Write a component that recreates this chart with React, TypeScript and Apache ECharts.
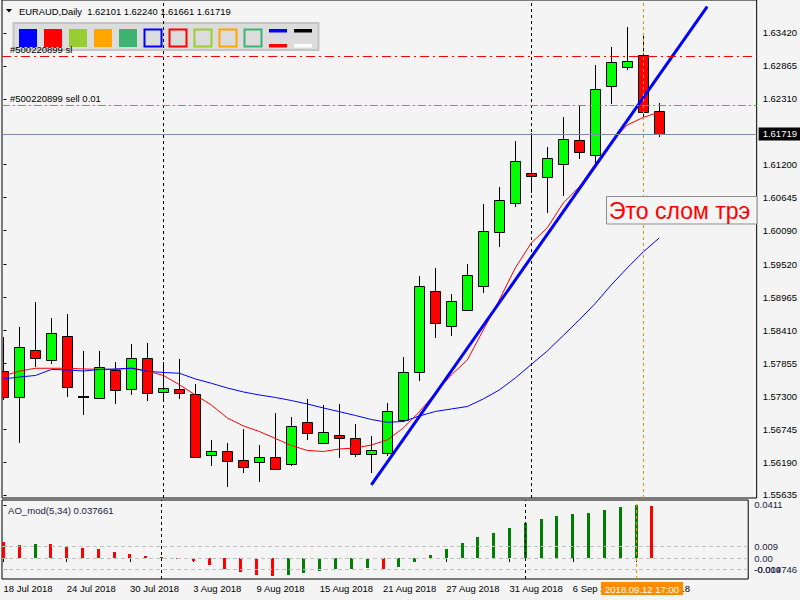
import React, { useEffect, useRef } from "react";
import * as echarts from "echarts";

const symbolTitle = "EURAUD,Daily";
const dates = [
  "18 Jul 2018", "19 Jul 2018", "20 Jul 2018", "23 Jul 2018", "24 Jul 2018", "25 Jul 2018", "26 Jul 2018", "27 Jul 2018",
  "30 Jul 2018", "31 Jul 2018", "1 Aug 2018", "2 Aug 2018", "3 Aug 2018", "6 Aug 2018", "7 Aug 2018", "8 Aug 2018",
  "9 Aug 2018", "10 Aug 2018", "13 Aug 2018", "14 Aug 2018", "15 Aug 2018", "16 Aug 2018", "17 Aug 2018", "20 Aug 2018",
  "21 Aug 2018", "22 Aug 2018", "23 Aug 2018", "24 Aug 2018", "27 Aug 2018", "28 Aug 2018", "29 Aug 2018", "30 Aug 2018",
  "31 Aug 2018", "3 Sep 2018", "4 Sep 2018", "5 Sep 2018", "6 Sep 2018", "7 Sep 2018", "10 Sep 2018", "11 Sep 2018",
  "12 Sep 2018", "13 Sep 2018",
];
const openP = [1.57724, 1.57281, 1.58073, 1.57905, 1.58309, 1.57274, 1.57264, 1.57741, 1.57416, 1.57938, 1.57365, 1.57416, 1.57332, 1.56304, 1.56376, 1.56225, 1.56186, 1.5627, 1.56152, 1.5686, 1.56506, 1.56641, 1.5659, 1.56321, 1.56338, 1.56899, 1.57702, 1.59067, 1.58478, 1.58747, 1.59152, 1.60062, 1.6055, 1.61061, 1.60988, 1.61208, 1.61617, 1.61359, 1.62522, 1.62842, 1.63044, 1.62101];
const highP = [1.58297, 1.58466, 1.58887, 1.58622, 1.5869, 1.58061, 1.58061, 1.57876, 1.58179, 1.58196, 1.57876, 1.57927, 1.575, 1.56562, 1.56511, 1.56747, 1.56477, 1.57017, 1.56949, 1.57248, 1.57151, 1.57168, 1.56831, 1.56629, 1.57185, 1.57955, 1.59325, 1.59465, 1.59022, 1.59527, 1.60539, 1.60825, 1.616, 1.61735, 1.61499, 1.6201, 1.62207, 1.62876, 1.63184, 1.63521, 1.63415, 1.6224];
const lowP = [1.57236, 1.56516, 1.57797, 1.57837, 1.57281, 1.56988, 1.57253, 1.57173, 1.5732, 1.57224, 1.57207, 1.57258, 1.56258, 1.56129, 1.55775, 1.56011, 1.55859, 1.56056, 1.56129, 1.56562, 1.56489, 1.56263, 1.5628, 1.56011, 1.56297, 1.56865, 1.57561, 1.58286, 1.58319, 1.58735, 1.59039, 1.59819, 1.60493, 1.60719, 1.60382, 1.60678, 1.61297, 1.61224, 1.62229, 1.62792, 1.61983, 1.61661];
const closeP = [1.57281, 1.58124, 1.57938, 1.5836, 1.5745, 1.57278, 1.57787, 1.57399, 1.57938, 1.57349, 1.57433, 1.57349, 1.5627, 1.56376, 1.56203, 1.56102, 1.5627, 1.56068, 1.56793, 1.5668, 1.56691, 1.5659, 1.56321, 1.56388, 1.57045, 1.57702, 1.59152, 1.58528, 1.58899, 1.59337, 1.60084, 1.60601, 1.61258, 1.61005, 1.61309, 1.61629, 1.6141, 1.62471, 1.62926, 1.62943, 1.62084, 1.61719];
const fastMA = [1.5764, 1.57724, 1.5777, 1.5777, 1.5777, 1.57758, 1.57753, 1.5775, 1.57775, 1.57724, 1.57649, 1.57493, 1.5732, 1.57151, 1.56932, 1.56798, 1.56705, 1.56587, 1.56469, 1.56385, 1.56368, 1.5641, 1.56427, 1.56477, 1.56562, 1.56764, 1.57034, 1.57354, 1.57657, 1.5791, 1.58415, 1.58921, 1.5946, 1.59881, 1.60134, 1.60555, 1.60825, 1.61213, 1.61583, 1.6187, 1.61996, 1.62089];
const slowMA = [1.5759, 1.57623, 1.57649, 1.5775, 1.57741, 1.57724, 1.5775, 1.57758, 1.5777, 1.57719, 1.57699, 1.57686, 1.5759, 1.57517, 1.57438, 1.57371, 1.5732, 1.57278, 1.57227, 1.57168, 1.57101, 1.57039, 1.56975, 1.56907, 1.5686, 1.56873, 1.56966, 1.57042, 1.57084, 1.57126, 1.57253, 1.57404, 1.57606, 1.57834, 1.58061, 1.58323, 1.58584, 1.58862, 1.59174, 1.5946, 1.5973, 1.59966];
const aoValues = [0.0124, 0.0101, 0.0109, 0.0107, 0.0093, 0.0078, 0.007, 0.0047, 0.0031, 0.0016, 0.0008, -0.0002, -0.0023, -0.0054, -0.0085, -0.0109, -0.0132, -0.014, -0.0132, -0.0116, -0.0101, -0.0088, -0.0084, -0.0078, -0.0085, -0.007, -0.0029, 0.0023, 0.007, 0.0116, 0.0163, 0.0194, 0.0233, 0.0271, 0.0302, 0.0326, 0.0341, 0.0349, 0.0372, 0.0395, 0.0411, 0.0403];
const aoTitle = "AO_mod(5,34) 0.037661";
const trendX = [23, 44];
const trendY = [1.55804, 1.63863];
const priceTicks = [1.55635, 1.5619, 1.56745, 1.573, 1.57855, 1.5841, 1.58965, 1.5952, 1.6009, 1.60645, 1.612, 1.6231, 1.62865, 1.6342];
const aoTicks = [0.0411, 0.009, 0, -0.009];
const aoTickLabels = ["0.0411", "0.009", "0.00", "-0.009"];
const aoMinLabel = "-0.014746";
const aoLevels = [0.009, 0, -0.009];
const separators = [10, 33];
const cursorIndex = 40;
const cursorLabel = "2018.09.12 17:00";
const dateTickIdx = [0, 4, 8, 12, 16, 20, 24, 28, 32, 36, 40];
const slPrice = 1.63021;
const slText = "#500220899 sl";
const orderPrice = 1.62202;
const orderText = "#500220899 sell 0.01";
const bidPrice = 1.61719;
const noteText = "Это слом трэ";
const toolbarColors = ["#0000ff", "#ff0000", "#9acd32", "#ffa500", "#3cb371"];

const FONT = "'Liberation Sans', Arial, sans-serif";
const BG = "#f4f4f4";
const X_MIN = -1.5 / 16;
const X_MAX = X_MIN + 755 / 16;

function buildOption(): any {
  const last = openP.length - 1;
  const title = `${symbolTitle}  ${openP[last].toFixed(5)} ${highP[last].toFixed(5)} ${lowP[last].toFixed(5)} ${closeP[last].toFixed(5)}`;

  const candleData = dates.map((_, i) => [i, openP[i], closeP[i], lowP[i], highP[i]]);
  const aoData = aoValues.map((v, i) => [i, v]);

  const toolbarChildren: any[] = [
    { type: "rect", shape: { x: 13.5, y: 23, width: 305, height: 27 }, style: { fill: "#dcdcdc", stroke: "#c4c4c4", lineWidth: 2 } },
  ];
  toolbarColors.forEach((c, k) => {
    toolbarChildren.push({ type: "rect", shape: { x: 19 + 25 * k, y: 29, width: 18, height: 18 }, style: { fill: c } });
    toolbarChildren.push({ type: "rect", shape: { x: 144.5 + 25 * k, y: 29.5, width: 17, height: 17 }, style: { fill: "none", stroke: c, lineWidth: 2 } });
  });
  toolbarChildren.push({ type: "rect", shape: { x: 269, y: 29, width: 18, height: 3.5 }, style: { fill: "#0000ff" } });
  toolbarChildren.push({ type: "rect", shape: { x: 269, y: 44, width: 18, height: 3.5 }, style: { fill: "#ff0000" } });
  toolbarChildren.push({ type: "rect", shape: { x: 294, y: 29, width: 18, height: 3.5 }, style: { fill: "#000000" } });
  toolbarChildren.push({ type: "rect", shape: { x: 294, y: 44, width: 18, height: 3.5 }, style: { fill: "#ffffff" } });

  return {
    animation: false,
    backgroundColor: BG,
    textStyle: { fontFamily: FONT },
    grid: [
      { left: 2, top: 0, width: 755, height: 498, show: true, borderColor: "#000", borderWidth: 1, backgroundColor: "transparent" },
      { left: 2, top: 500, width: 755, height: 79, show: true, borderColor: "#000", borderWidth: 1, backgroundColor: "transparent" },
    ],
    xAxis: [
      { gridIndex: 0, type: "value", min: X_MIN, max: X_MAX, show: false },
      {
        gridIndex: 1, type: "value", min: X_MIN, max: X_MAX,
        axisLine: { show: false }, splitLine: { show: false },
        axisTick: { show: true, customValues: dateTickIdx, length: 4, lineStyle: { color: "#000" } },
        axisLabel: {
          customValues: dateTickIdx, formatter: (v: number) => dates[Math.round(v)] ?? "",
          align: "left", fontSize: 9.5, color: "#000", margin: 4, fontFamily: FONT,
        },
      },
    ],
    yAxis: [
      {
        gridIndex: 0, type: "value", position: "right", min: 1.55584, max: 1.63976,
        axisLine: { show: false }, splitLine: { show: false },
        axisTick: { show: true, customValues: priceTicks, length: 3, lineStyle: { color: "#000" } },
        axisLabel: { customValues: priceTicks, formatter: (v: number) => v.toFixed(5), fontSize: 9.5, color: "#000", margin: 6, fontFamily: FONT },
      },
      {
        gridIndex: 1, type: "value", position: "right", min: -0.016279, max: 0.044961,
        axisLine: { show: false }, splitLine: { show: false },
        axisTick: { show: true, customValues: aoTicks, length: 3, lineStyle: { color: "#000" } },
        axisLabel: {
          customValues: aoTicks,
          formatter: (v: number) => {
            let best = 0;
            aoTicks.forEach((t, k) => { if (Math.abs(t - v) < Math.abs(aoTicks[best] - v)) best = k; });
            return aoTickLabels[best];
          },
          fontSize: 9.5, color: "#1a2440", margin: 6, fontFamily: FONT,
        },
      },
      {
        gridIndex: 1, type: "value", position: "right", min: -0.016279, max: 0.044961,
        axisLine: { show: false }, splitLine: { show: false }, axisTick: { show: false },
        axisLabel: { customValues: [aoTicks[3]], formatter: () => aoMinLabel, fontSize: 9.5, color: "#1a2440", margin: 6, fontFamily: FONT },
      },
    ],
    graphic: [
      { type: "polygon", z: 3, shape: { points: [[6, 9], [12, 9], [9, 12.5]] }, style: { fill: "#000" } },
      { type: "text", z: 3, x: 19, y: 11, style: { text: title, fill: "#000", font: `9.4px ${FONT}`, verticalAlign: "middle" } },
      { type: "group", z: 3, children: toolbarChildren.map((c) => ({ ...c, z: 3 })) },
      { type: "text", z: 3, x: 8, y: 510, style: { text: aoTitle, fill: "#1a2440", font: `9.6px ${FONT}`, verticalAlign: "middle" } },
      {
        type: "group", z: 6,
        children: [
          { type: "rect", z: 6, shape: { x: 606.5, y: 196.5, width: 150.5, height: 27.5 }, style: { fill: BG, stroke: "#8c8c8c", lineWidth: 1 } },
          { type: "text", z: 7, x: 609, y: 210.5, style: { text: noteText, fill: "#ff0000", font: `23px ${FONT}`, verticalAlign: "middle" } },
        ],
      },
    ],
    series: [
      {
        name: "separators", type: "line", xAxisIndex: 0, yAxisIndex: 0, data: [], z: 1,
        markLine: {
          silent: true, precision: 6, symbol: ["none", "none"], label: { show: false },
          lineStyle: { color: "#000", type: [3, 3], width: 1 },
          data: separators.map((x) => ({ xAxis: x })),
        },
      },
      {
        name: "separators2", type: "line", xAxisIndex: 1, yAxisIndex: 1, data: [], z: 1,
        markLine: {
          silent: true, precision: 6, symbol: ["none", "none"], label: { show: false },
          data: [
            ...separators.map((x) => ({ xAxis: x, lineStyle: { color: "#000", type: [3, 3], width: 1 } })),
            ...aoLevels.map((y) => ({ yAxis: y, lineStyle: { color: "#c0c0c0", type: [4, 3], width: 1 } })),
          ],
        },
      },
      {
        name: "candles", type: "custom", xAxisIndex: 0, yAxisIndex: 0, z: 2, clip: true,
        data: candleData,
        encode: { x: 0, y: [1, 2, 3, 4] },
        renderItem: (params: any, api: any) => {
          const i = api.value(0);
          const o = api.value(1), c = api.value(2), l = api.value(3), h = api.value(4);
          const po = api.coord([i, o]);
          const pc = api.coord([i, c]);
          const pl = api.coord([i, l]);
          const ph = api.coord([i, h]);
          const cx = Math.round(po[0] - 0.5) + 0.5;
          const top = Math.min(po[1], pc[1]);
          const bot = Math.max(po[1], pc[1]);
          const children: any[] = [
            { type: "line", shape: { x1: cx, y1: Math.round(ph[1]), x2: cx, y2: Math.round(pl[1]) }, style: { stroke: "#000", lineWidth: 1 } },
          ];
          if (bot - top < 1.5) {
            const y = Math.round(top);
            children.push({ type: "line", shape: { x1: cx - 5.5, y1: y, x2: cx + 5.5, y2: y }, style: { stroke: "#000", lineWidth: 2 } });
          } else {
            const yt = Math.round(top) + 0.5;
            const yb = Math.round(bot) + 0.5;
            children.push({
              type: "rect", shape: { x: cx - 5, y: yt, width: 10, height: yb - yt },
              style: { fill: c > o ? "#00ff00" : "#ff0000", stroke: "#000", lineWidth: 1 },
            });
          }
          return { type: "group", children };
        },
      },
      {
        name: "fastMA", type: "line", xAxisIndex: 0, yAxisIndex: 0, z: 3,
        data: fastMA.map((v, i) => [i, v]), showSymbol: false, symbol: "none",
        lineStyle: { color: "#ff0000", width: 1 },
      },
      {
        name: "slowMA", type: "line", xAxisIndex: 0, yAxisIndex: 0, z: 3,
        data: slowMA.map((v, i) => [i, v]), showSymbol: false, symbol: "none",
        lineStyle: { color: "#0000ff", width: 1 },
      },
      {
        name: "trend", type: "line", xAxisIndex: 0, yAxisIndex: 0, z: 4,
        data: trendX.map((x, i) => [x, trendY[i]]), showSymbol: false, symbol: "none",
        lineStyle: { color: "#0000ff", width: 3 },
      },
      {
        name: "orders", type: "line", xAxisIndex: 0, yAxisIndex: 0, data: [], z: 5,
        markLine: {
          silent: true, precision: 6, symbol: ["none", "none"],
          data: [
            {
              yAxis: slPrice, lineStyle: { color: "#ff0000", type: [9, 4, 2, 4], width: 1 },
              label: { show: true, position: "insideStartTop", formatter: slText, color: "#000", fontSize: 9.5, fontFamily: FONT, distance: [8, 2] },
            },
            {
              yAxis: orderPrice, lineStyle: { color: "#3cbf3c", type: [8, 3, 2, 3], width: 1 },
              label: { show: true, position: "insideStartTop", formatter: orderText, color: "#000", fontSize: 9.5, fontFamily: FONT, distance: [8, 2] },
            },
            {
              yAxis: bidPrice, lineStyle: { color: "#7a8ca3", type: "solid", width: 1 },
              label: {
                show: true, position: "end", formatter: bidPrice.toFixed(5), color: "#fff", backgroundColor: "#000",
                fontSize: 9.5, fontFamily: FONT, padding: [2, 4, 1, 4], distance: 2,
              },
            },
          ],
        },
      },
      {
        name: "cursor", type: "line", xAxisIndex: 0, yAxisIndex: 0, data: [], z: 5,
        markLine: {
          silent: true, precision: 6, symbol: ["none", "none"], label: { show: false },
          lineStyle: { color: "#ff8c00", type: [3, 3], width: 1 },
          data: [{ xAxis: cursorIndex }],
        },
      },
      {
        name: "ao", type: "custom", xAxisIndex: 1, yAxisIndex: 1, z: 2, clip: true,
        data: aoData,
        encode: { x: 0, y: 1 },
        renderItem: (params: any, api: any) => {
          const idx = params.dataIndex;
          const i = api.value(0);
          const v = api.value(1);
          const p = api.coord([i, v]);
          const p0 = api.coord([i, 0]);
          const up = idx > 0 && aoValues[idx] > aoValues[idx - 1];
          const x = Math.round(p[0] - 0.5) - 1;
          const y1 = Math.round(Math.min(p[1], p0[1]));
          const y2 = Math.round(Math.max(p[1], p0[1]));
          return {
            type: "rect",
            shape: { x, y: y1, width: 3, height: Math.max(1, y2 - y1) },
            style: { fill: up ? "#008000" : "#ff0000" },
          };
        },
      },
      {
        name: "cursor2", type: "line", xAxisIndex: 1, yAxisIndex: 1, data: [], z: 5,
        markLine: {
          silent: true, precision: 6, symbol: ["none", "none"],
          lineStyle: { color: "#ff8c00", type: [3, 3], width: 1 },
          label: {
            show: true, position: "start", formatter: cursorLabel, color: "#fff", backgroundColor: "#ff8c00",
            fontSize: 9.5, fontFamily: FONT, padding: [2, 4, 1, 4], distance: 3, offset: [6, 0],
          },
          data: [{ xAxis: cursorIndex }],
        },
      },
    ],
  };
}

export default function App() {
  const ref = useRef<HTMLDivElement>(null);
  useEffect(() => {
    if (!ref.current) return;
    const chart = echarts.init(ref.current, null, { renderer: "svg" });
    chart.setOption(buildOption());
    return () => chart.dispose();
  }, []);
  return (
    <div
      ref={ref}
      style={{ position: "fixed", left: 0, top: 0, width: 800, height: 600, background: BG }}
    />
  );
}
